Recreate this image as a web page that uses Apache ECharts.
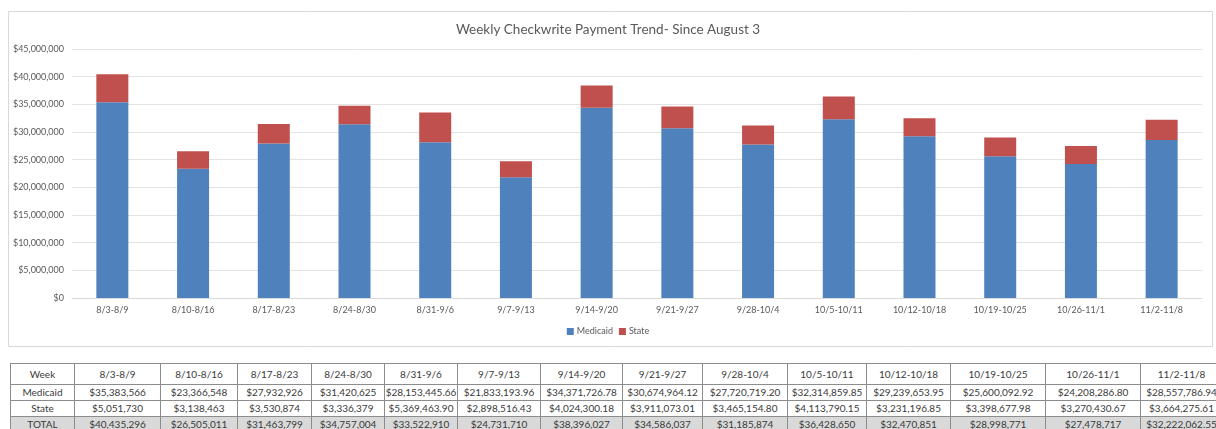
<!DOCTYPE html>
<html>
<head>
<meta charset="utf-8">
<script src="https://cdn.jsdelivr.net/npm/echarts@6/dist/echarts.min.js"></script>
<style>
  html, body { margin: 0; padding: 0; background: #fff; overflow: hidden; }
  #wrap { position: relative; width: 1216px; height: 429px; }
  #chart { position: absolute; left: 0; top: 0; width: 1216px; height: 352px; }
  #tbl {
    position: absolute; left: 10px; top: 363px;
    border-collapse: collapse; table-layout: fixed;
    font-family: Lato, "Noto Sans", sans-serif; font-size: 10px; color: #3a3a3a;
  }
  #tbl td {
    border: 1px solid #8c8c8c; text-align: center; padding: 0;
    white-space: nowrap; overflow: hidden; height: 15px; line-height: 15px;
  }
  #tbl tr.head td { height: 20px; line-height: 20px; }
  #tbl tr.total td { background: #d9d9d9; }
</style>
</head>
<body>
<div id="wrap">
  <div id="chart"></div>
  <table id="tbl"></table>
</div>
<script>
// weeks shown on the x axis and in the table header
var weeks = ["8/3-8/9", "8/10-8/16", "8/17-8/23", "8/24-8/30", "8/31-9/6", "9/7-9/13", "9/14-9/20",
             "9/21-9/27", "9/28-10/4", "10/5-10/11", "10/12-10/18", "10/19-10/25", "10/26-11/1", "11/2-11/8"];

var medicaid = [35383566, 23366548, 27932926, 31420625, 28153445.66, 21833193.96, 34371726.78,
                30674964.12, 27720719.20, 32314859.85, 29239653.95, 25600092.92, 24208286.80, 28557786.94];

var state = [5051730, 3138463, 3530874, 3336379, 5369463.90, 2898516.43, 4024300.18,
             3911073.01, 3465154.80, 4113790.15, 3231196.85, 3398677.98, 3270430.67, 3664275.61];

// totals as printed in the table (some are rounded)
var totals = [40435296, 26505011, 31463799, 34757004, 33522910, 24731710, 38396027,
              34586037, 31185874, 36428650, 32470851, 28998771, 27478717, 32222062.55];

var yTicks = [0, 5000000, 10000000, 15000000, 20000000, 25000000, 30000000, 35000000, 40000000, 45000000];

// column widths of the table (px)
var colWidths = [64, 86, 77, 74, 73, 73, 83, 82, 80, 85, 79, 84, 95, 95, 82];

var FONT = 'Lato, "Noto Sans", sans-serif';
var TXT = '#595959';

function money(v) {
    var cents = Math.round(v * 100) % 100 !== 0;
    return '$' + v.toLocaleString('en-US', {
        minimumFractionDigits: cents ? 2 : 0,
        maximumFractionDigits: cents ? 2 : 0
    });
}

var myChart = echarts.init(document.getElementById('chart'), null, {renderer: 'canvas'});
myChart.setOption({
    animation: false,
    textStyle: {fontFamily: FONT},
    title: {
        text: 'Weekly Checkwrite Payment Trend- Since August 3',
        left: 'center', top: 18,
        textStyle: {fontFamily: FONT, fontSize: 13.5, fontWeight: 'normal', color: TXT}
    },
    graphic: [{
        type: 'rect', silent: true,
        shape: {x: 8.5, y: 11.5, width: 1204, height: 335},
        style: {fill: 'none', stroke: '#d9d9d9', lineWidth: 1}
    }],
    legend: {
        data: ['Medicaid', 'State'],
        bottom: 11, left: 'center',
        itemWidth: 7, itemHeight: 7, itemGap: 6,
        icon: 'rect',
        textStyle: {fontFamily: FONT, fontSize: 9, color: TXT, padding: [0, 0, 0, -2]}
    },
    grid: {left: 72, right: 14, top: 49, bottom: 54},
    xAxis: {
        type: 'category', data: weeks,
        axisTick: {show: false},
        axisLine: {lineStyle: {color: '#d9d9d9'}},
        axisLabel: {color: TXT, fontSize: 9, margin: 8, fontFamily: FONT, interval: 0}
    },
    yAxis: {
        type: 'value', min: yTicks[0], max: yTicks[yTicks.length - 1], interval: yTicks[1] - yTicks[0],
        axisLine: {show: false}, axisTick: {show: false},
        splitLine: {lineStyle: {color: '#e3e3e3'}},
        axisLabel: {color: TXT, fontSize: 9, margin: 8, fontFamily: FONT, formatter: function (v) { return money(v); }}
    },
    series: [
        {name: 'Medicaid', type: 'bar', stack: 'pay', data: medicaid, barWidth: 32,
         itemStyle: {color: '#4f81bd'}},
        {name: 'State', type: 'bar', stack: 'pay', data: state, barWidth: 32,
         itemStyle: {color: '#c0504d'}}
    ]
});

// table under the chart
function buildTable() {
    var t = document.getElementById('tbl');
    var cg = '<colgroup>';
    for (var i = 0; i < colWidths.length; i++) cg += '<col style="width:' + colWidths[i] + 'px">';
    cg += '</colgroup>';
    var rows = [
        {cls: 'head', label: 'Week', vals: weeks.map(function (w) { return w; })},
        {cls: '', label: 'Medicaid', vals: medicaid.map(money)},
        {cls: '', label: 'State', vals: state.map(money)},
        {cls: 'total', label: 'TOTAL', vals: totals.map(money)}
    ];
    var html = cg;
    rows.forEach(function (r) {
        html += '<tr class="' + r.cls + '"><td>' + r.label + '</td>';
        r.vals.forEach(function (v) { html += '<td>' + v + '</td>'; });
        html += '</tr>';
    });
    t.innerHTML = html;
    var sum = 0;
    colWidths.forEach(function (w) { sum += w; });
    t.style.width = sum + 'px';
}
buildTable();
</script>
</body>
</html>
